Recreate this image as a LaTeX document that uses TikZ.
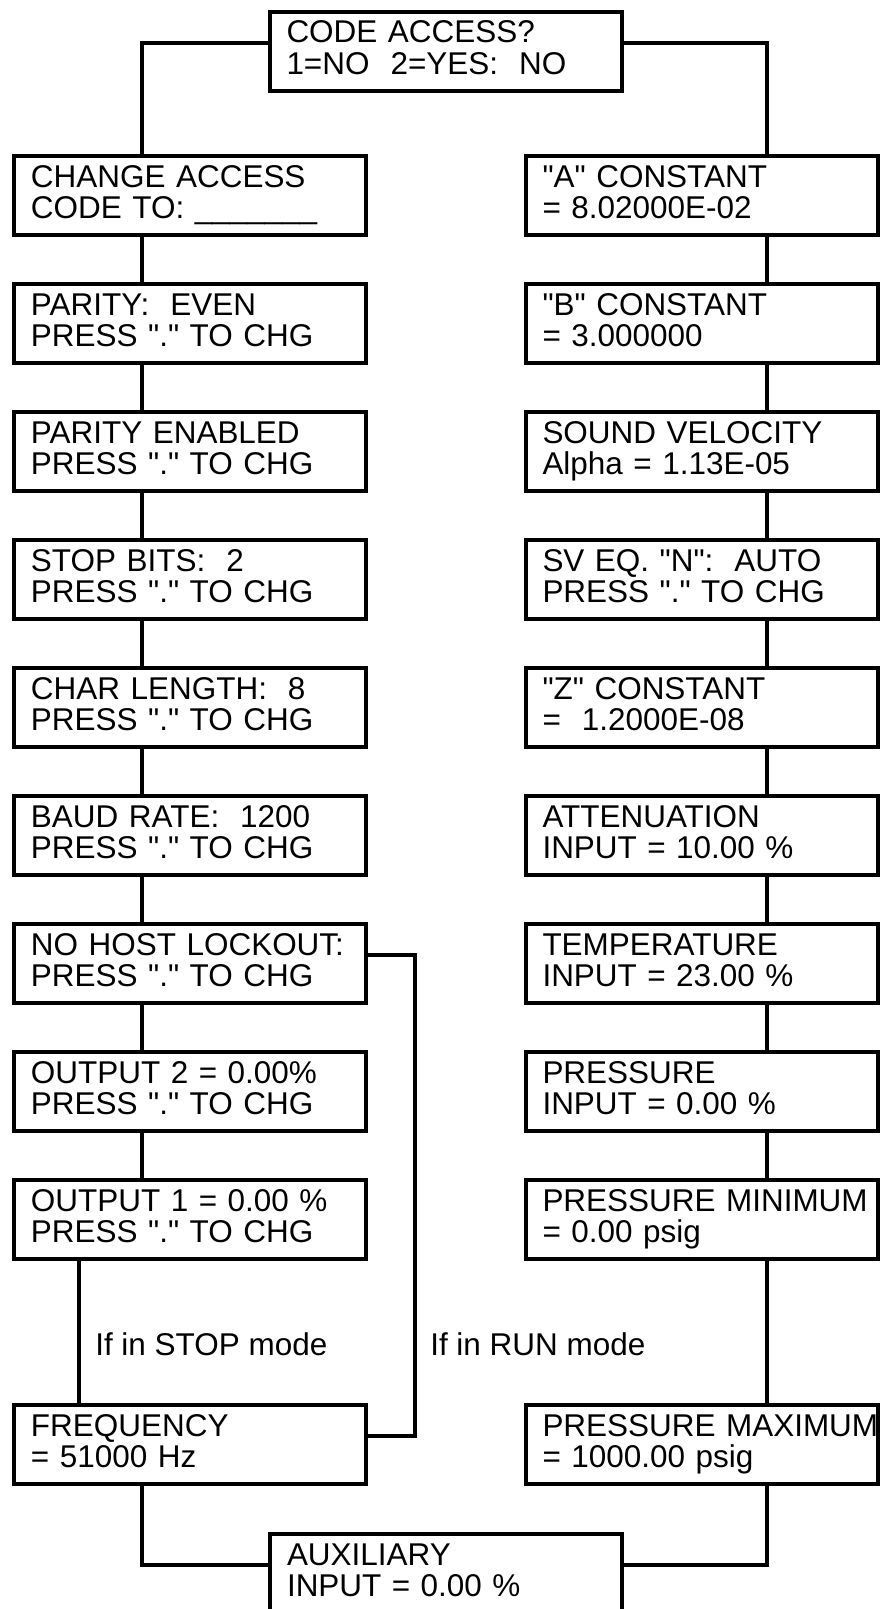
\documentclass[tikz,border=0pt]{standalone}
\usepackage{fontspec}
\setmainfont{Liberation Sans}[Ligatures=TeXOff]

\tikzset{
  panel/.style={draw=black, line width=3pt, rectangle, inner xsep=12.75pt, inner ysep=0pt,
    text width=238.5pt, align=left, text height=23.25pt, text depth=36pt,
    font=\fontsize{23.6pt}{23.6pt}\selectfont},
  link/.style={draw=black, line width=3pt},
  note/.style={inner sep=0pt, anchor=base west, font=\fontsize{23.6pt}{23.6pt}\selectfont}
}

\begin{document}
\begin{tikzpicture}[x=0.75pt,y=-0.75pt]
\useasboundingbox (0,0) rectangle (880,1609);
\coordinate (lcol) at (142,0);
\coordinate (rcol) at (767,0);
\coordinate (scol) at (79,0);
\coordinate (runcol) at (415,0);

\node[panel] (top) at (445.5,51.5) {CODE ACCESS?\\1=NO~~2=YES:~~NO};

% left column
\node[panel] (l1) at (190,195.5) {CHANGE ACCESS\\CODE TO: \_\_\_\_\_\_\_};
\node[panel] (l2) at (190,323.5) {PARITY:~~EVEN\\PRESS "." TO CHG};
\node[panel] (l3) at (190,451.5) {PARITY ENABLED\\PRESS "." TO CHG};
\node[panel] (l4) at (190,579.5) {STOP BITS:~~2\\PRESS "." TO CHG};
\node[panel] (l5) at (190,707.5) {CHAR LENGTH:~~8\\PRESS "." TO CHG};
\node[panel] (l6) at (190,835.5) {BAUD RATE:~~1200\\PRESS "." TO CHG};
\node[panel] (l7) at (190,963.5) {\mbox{NO HOST LOCKOUT:}\\PRESS "." TO CHG};
\node[panel] (l8) at (190,1091.5) {OUTPUT 2 = 0.00\%\\PRESS "." TO CHG};
\node[panel] (l9) at (190,1219.5) {OUTPUT 1 = 0.00 \%\\PRESS "." TO CHG};
\node[panel] (l10) at (190,1444.5) {FREQUENCY\\= 51000 Hz};

% right column
\node[panel] (r1) at (701.5,195.5) {"A" CONSTANT\\= 8.02000E-02};
\node[panel] (r2) at (701.5,323.5) {"B" CONSTANT\\= 3.000000};
\node[panel] (r3) at (701.5,451.5) {SOUND VELOCITY\\Alpha = 1.13E-05};
\node[panel] (r4) at (701.5,579.5) {SV EQ. "N":~~AUTO\\PRESS "." TO CHG};
\node[panel] (r5) at (701.5,707.5) {"Z" CONSTANT\\=~~1.2000E-08};
\node[panel] (r6) at (701.5,835.5) {ATTENUATION\\INPUT = 10.00 \%};
\node[panel] (r7) at (701.5,963.5) {TEMPERATURE\\INPUT = 23.00 \%};
\node[panel] (r8) at (701.5,1091.5) {PRESSURE\\INPUT = 0.00 \%};
\node[panel] (r9) at (701.5,1219.5) {\mbox{PRESSURE MINIMUM}\\= 0.00 psig};
\node[panel] (r10) at (701.5,1444.5) {\mbox{PRESSURE MAXIMUM}\\= 1000.00 psig};

\node[panel] (aux) at (446,1573.5) {AUXILIARY\\INPUT = 0.00 \%};

\node[note] (stopnote) at (95,1355) {If in STOP mode};
\node[note] (runnote) at (430,1355) {If in RUN mode};

% connectors
\draw[link] (top.base west) -| (l1.north -| lcol);
\draw[link] (top.base east) -| (r1.north -| rcol);
\foreach \a/\b in {l1/l2,l2/l3,l3/l4,l4/l5,l5/l6,l6/l7,l7/l8,l8/l9}
  \draw[link] (\a.south -| lcol) -- (\b.north -| lcol);
\foreach \a/\b in {r1/r2,r2/r3,r3/r4,r4/r5,r5/r6,r6/r7,r7/r8,r8/r9,r9/r10}
  \draw[link] (\a.south -| rcol) -- (\b.north -| rcol);
\draw[link] (l9.south -| scol) -- (l10.north -| scol);
\draw[link] (l7.base east) -| (runcol |- l10.base east) -- (l10.base east);
\draw[link] (l10.south -| lcol) |- (aux.base west);
\draw[link] (r10.south -| rcol) |- (aux.base east);
\end{tikzpicture}
\end{document}
